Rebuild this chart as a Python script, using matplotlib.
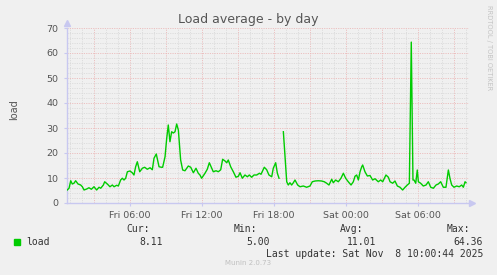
import numpy as np
import matplotlib
matplotlib.use("Agg")
import matplotlib.pyplot as plt

# hours since Fri 00:00, load values (nan = gap in data)
hours = [
    0.72, 0.92, 1.06, 1.19, 1.33, 1.47, 1.67, 1.89, 2.03, 2.17,
    2.39, 2.58, 2.78, 3.00, 3.22, 3.42, 3.56, 3.78, 3.89, 4.11,
    4.33, 4.53, 4.67, 4.89, 5.03, 5.22, 5.36, 5.50, 5.64, 5.78,
    6.00, 6.19, 6.33, 6.47, 6.61, 6.81, 7.03, 7.22, 7.44, 7.67,
    7.86, 8.00, 8.19, 8.42, 8.61, 8.72, 8.92, 9.06, 9.19, 9.33,
    9.47, 9.61, 9.75, 9.89, 10.03, 10.22, 10.39, 10.58, 10.86, 11.06,
    11.28, 11.50, 11.69, 11.83, 11.97, 12.25, 12.44, 12.61, 12.81, 12.94,
    13.17, 13.36, 13.56, 13.72, 13.92, 14.06, 14.19, 14.39, 14.61, 14.83,
    15.03, 15.17, 15.36, 15.58, 15.78, 15.94, 16.14, 16.33, 16.56, 16.78,
    16.92, 17.19, 17.39, 17.58, 17.81, 17.94, 18.14, 18.28, 18.42, 18.60,
    18.78, 18.92, 19.06, 19.19, 19.33, 19.47, 19.61, 19.75, 19.97, 20.17,
    20.44, 20.72, 21.00, 21.19, 21.42, 21.69, 21.97, 22.19, 22.39, 22.58,
    22.81, 22.94, 23.14, 23.36, 23.58, 23.78, 23.97, 24.19, 24.42, 24.61,
    24.75, 24.89, 25.03, 25.17, 25.31, 25.39, 25.58, 25.78, 26.00, 26.22,
    26.42, 26.69, 26.89, 27.06, 27.33, 27.53, 27.67, 27.89, 28.08, 28.28,
    28.50, 28.72, 28.92, 29.11, 29.28, 29.44, 29.58, 29.67, 29.81, 29.94,
    30.03, 30.22, 30.44, 30.67, 30.86, 31.06, 31.28, 31.50, 31.69, 31.89,
    32.11, 32.33, 32.53, 32.67, 32.81, 33.00, 33.22, 33.44, 33.64, 33.78,
    33.92, 34.00,
]
load = [
    5.0, 5.9, 8.9, 7.6, 7.9, 8.9, 7.6, 7.2, 6.5, 5.2,
    5.6, 6.1, 5.5, 6.5, 5.2, 6.3, 5.9, 7.2, 8.5, 7.6,
    6.5, 7.2, 6.5, 7.1, 6.8, 9.2, 9.9, 9.2, 9.9, 12.5,
    12.8, 12.1, 11.2, 14.5, 16.5, 12.5, 13.9, 14.3, 13.5, 14.1,
    13.3, 17.9, 19.6, 14.5, 14.3, 14.3, 18.5, 25.9, 31.2, 24.5,
    28.5, 28.0, 28.5, 31.6, 29.2, 17.2, 13.2, 12.9, 14.8, 14.3,
    12.1, 13.9, 11.9, 11.2, 9.9, 11.9, 13.5, 16.1, 13.9, 12.5,
    12.9, 12.5, 13.3, 17.5, 16.8, 16.1, 17.2, 14.5, 12.5, 10.3,
    10.7, 12.1, 9.9, 11.2, 10.5, 11.2, 10.3, 11.2, 11.2, 11.9,
    11.5, 14.3, 13.3, 11.2, 10.5, 13.9, 16.1, 11.9, 9.9, np.nan,
    28.5, 18.5, 8.5, 7.2, 8.1, 7.2, 8.1, 9.2, 7.2, 6.5,
    6.8, 6.3, 6.8, 8.5, 8.8, 8.9, 8.8, 8.5, 7.9, 7.2,
    9.5, 8.1, 9.2, 8.5, 9.9, 11.9, 9.9, 8.5, 7.2, 8.5,
    10.7, 11.2, 9.2, 12.5, 14.5, 15.2, 12.5, 10.8, 11.0, 9.2,
    9.7, 8.5, 9.2, 8.5, 11.2, 10.3, 8.5, 7.9, 8.8, 6.8,
    6.3, 5.2, 6.3, 7.2, 7.9, 64.36, 9.2, 9.2, 7.9, 13.2,
    8.5, 7.9, 6.8, 7.2, 8.5, 6.3, 5.9, 7.2, 7.6, 8.5,
    6.3, 6.3, 13.2, 9.7, 7.2, 6.3, 6.8, 6.5, 7.2, 6.3,
    8.5, 8.11,
]

tick_hours = [6, 12, 18, 24, 30]
tick_labels = ["Fri 06:00", "Fri 12:00", "Fri 18:00", "Sat 00:00", "Sat 06:00"]
stat_names = ["Cur:", "Min:", "Avg:", "Max:"]
stat_values = [8.11, 5.00, 11.01, 64.36]

W, H = 497, 275
bg = "#f0f0f0"
fig = plt.figure(figsize=(W / 100, H / 100), dpi=100, facecolor=bg)
ax = fig.add_axes([67 / W, 72 / H, 402 / W, 175 / H], facecolor=bg)

x0, x1 = 0.75, 34.25
ax.set_xlim(x0, x1)
ax.set_ylim(0, 70)

# rrdtool style dotted grid: pink every 3h / 10 units, grey every 1h / 2 units
dot = (0, (1.4, 1.4))
for h in np.arange(1, 35):
    major = h % 3 == 0
    ax.axvline(h, color="#ebb8b8" if major else "#dadada", lw=0.6, ls=dot, zorder=1)
for v in np.arange(2, 71, 2):
    major = v % 10 == 0
    ax.axhline(v, color="#ebb8b8" if major else "#dadada", lw=0.6, ls=dot, zorder=1)

ax.plot(hours, load, color="#00cc00", lw=1.0, zorder=3)

for s in ["top", "right"]:
    ax.spines[s].set_visible(False)
for s in ["left", "bottom"]:
    ax.spines[s].set_color("#c8c8f0")
    ax.spines[s].set_linewidth(1.0)
ax.plot([0], [1.03], marker="^", color="#c8c8f0", ms=5, transform=ax.transAxes, clip_on=False)
ax.plot([1.008], [0], marker=">", color="#c8c8f0", ms=5, transform=ax.transAxes, clip_on=False)

ax.set_yticks(np.arange(0, 71, 10))
ax.set_xticks(tick_hours)
ax.set_xticklabels(tick_labels)
ax.tick_params(axis="both", labelsize=6.8, colors="#555555", length=2, pad=4)
ax.tick_params(axis="both", color="#c8c8f0")

fig.text(248 / W, 1 - 19 / H, "Load average - by day", ha="center", va="center",
         fontsize=9, color="#555555")
fig.text(14 / W, 1 - 110 / H, "load", rotation=90, ha="center", va="center",
         fontsize=7, color="#555555")
fig.text(489 / W, 1 - 5 / H, "RRDTOOL / TOBI OETIKER", rotation=270, ha="center",
         va="top", fontsize=4.8, color="#c4c4c4")

mono = "DejaVu Sans Mono"
tc = "#333333"
name_right = [150, 257, 363, 470]
value_right = [163, 270, 376, 483]
for nm, xr in zip(stat_names, name_right):
    fig.text(xr / W, 1 - 229 / H, nm, ha="right", va="center", family=mono,
             fontsize=7, color=tc)
for val, xr in zip(stat_values, value_right):
    fig.text(xr / W, 1 - 242 / H, f"{val:.2f}", ha="right", va="center", family=mono,
             fontsize=7, color=tc)
fig.patches.append(plt.Rectangle((14 / W, 1 - 245 / H), 6 / W, 6 / H,
                                 transform=fig.transFigure, color="#00cc00"))
fig.text(26 / W, 1 - 242 / H, "load", ha="left", va="center", family=mono,
         fontsize=7, color=tc)
fig.text(483 / W, 1 - 254 / H, "Last update: Sat Nov  8 10:00:44 2025", ha="right",
         va="center", family=mono, fontsize=7, color=tc)
fig.text(248 / W, 1 - 263 / H, "Munin 2.0.73", ha="center", va="center",
         fontsize=5, color="#c0c0c0")

fig.savefig("out.png", dpi=100, facecolor=bg)
